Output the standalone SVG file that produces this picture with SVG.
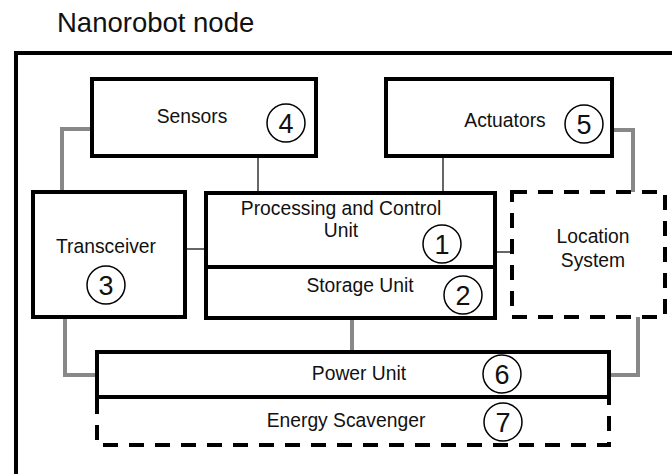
<svg xmlns="http://www.w3.org/2000/svg" width="672" height="474" viewBox="0 0 672 474">
<style>
.box{fill:#fff;stroke:#000;stroke-width:4}
.dash{fill:none;stroke:#000;stroke-width:4;stroke-dasharray:15 11}
.lbl{font-family:"Liberation Sans",Arial,sans-serif;font-size:19.3px;fill:#111;text-anchor:middle}
.num{font-family:"Liberation Sans",Arial,sans-serif;font-size:27px;fill:#111;text-anchor:middle}
.circ{fill:none;stroke:#000;stroke-width:1.5}
.gray{fill:none;stroke:#888;stroke-width:4}
.thin{fill:none;stroke:#000;stroke-width:1.2}
</style>
<rect width="672" height="474" fill="#fff"/>
<text x="57" y="32" font-family="Liberation Sans,Arial,sans-serif" font-size="27.5" fill="#111">Nanorobot node</text>
<rect id="outer" x="16" y="53" width="700" height="500" fill="none" stroke="#000" stroke-width="4"/>
<g id="connectors">
<polyline class="gray" points="92,129 62,129 62,192"/>
<polyline class="gray" points="612,130 633,130 633,192"/>
<polyline class="gray" points="65,317 65,375 97,375"/>
<polyline class="gray" points="638,317 638,375 609,375"/>
<line class="gray" x1="352" y1="318" x2="352" y2="352"/>
<line class="thin" x1="258" y1="156" x2="258" y2="193"/>
<line class="thin" x1="443" y1="156" x2="443" y2="193"/>
<line class="thin" x1="185" y1="249" x2="206" y2="249"/>
<line class="thin" x1="495" y1="252" x2="512" y2="252"/>
</g>
<g id="sensors">
<rect class="box" x="92" y="79" width="224" height="77"/>
<text class="lbl" x="192" y="123">Sensors</text>
<circle class="circ" cx="286" cy="123" r="19"/>
<text class="num" x="286" y="133">4</text>
</g>
<g id="actuators">
<rect class="box" x="386" y="79" width="226" height="77"/>
<text class="lbl" x="505" y="127">Actuators</text>
<circle class="circ" cx="584" cy="124" r="19"/>
<text class="num" x="584" y="134">5</text>
</g>
<g id="transceiver">
<rect class="box" x="33" y="192" width="152" height="125"/>
<text class="lbl" x="106" y="253">Transceiver</text>
<circle class="circ" cx="106" cy="285" r="19"/>
<text class="num" x="106" y="295">3</text>
</g>
<g id="processing">
<rect class="box" x="206" y="193" width="289" height="74"/>
<text class="lbl" x="341" y="215">Processing and Control</text>
<text class="lbl" x="341" y="237">Unit</text>
<circle class="circ" cx="442" cy="244" r="19"/>
<text class="num" x="442" y="254">1</text>
</g>
<g id="storage">
<rect class="box" x="206" y="267" width="289" height="51"/>
<text class="lbl" x="360" y="292">Storage Unit</text>
<circle class="circ" cx="463" cy="295" r="19"/>
<text class="num" x="463" y="305">2</text>
</g>
<g id="location">
<rect class="dash" x="512" y="192" width="153" height="125"/>
<text class="lbl" x="593" y="243">Location</text>
<text class="lbl" x="593" y="267">System</text>
</g>
<g id="power">
<rect class="box" x="97" y="352" width="512" height="45"/>
<text class="lbl" x="359" y="380">Power Unit</text>
<circle class="circ" cx="502" cy="374" r="19"/>
<text class="num" x="502" y="384">6</text>
</g>
<g id="scavenger">
<path class="dash" d="M97,399 V445 H609 V399"/>
<text class="lbl" x="346" y="427">Energy Scavenger</text>
<circle class="circ" cx="503" cy="422" r="19"/>
<text class="num" x="503" y="432">7</text>
</g>
</svg>
